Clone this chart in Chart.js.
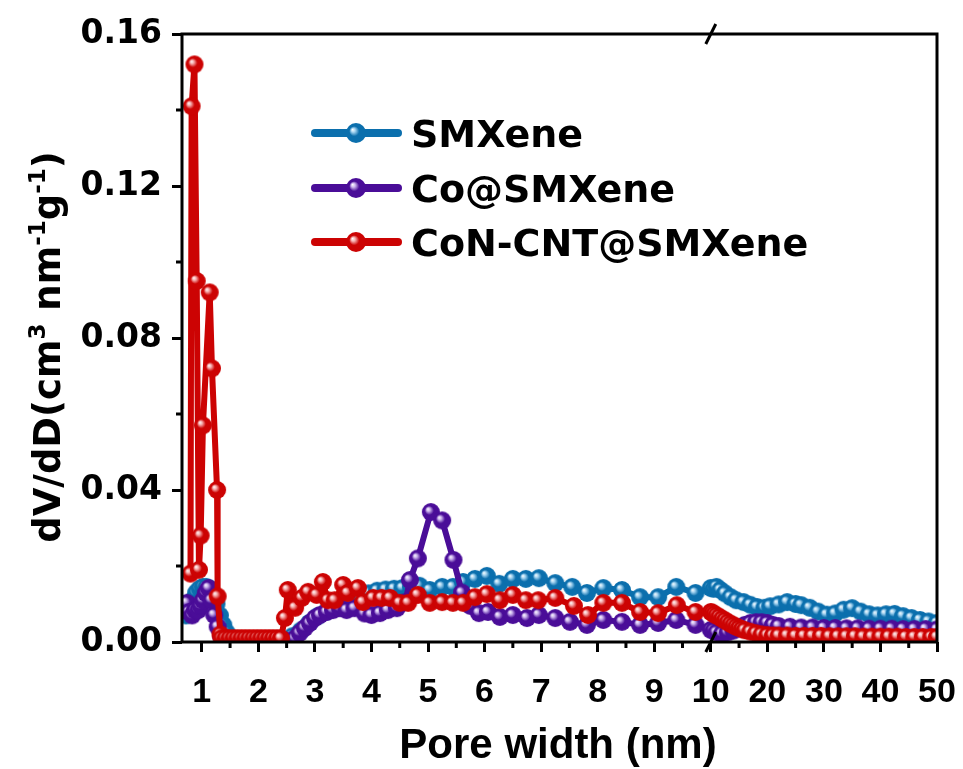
<!DOCTYPE html>
<html>
<head>
<meta charset="utf-8">
<script src="https://cdn.jsdelivr.net/npm/chart.js@4.4.1/dist/chart.umd.min.js"></script>
<style>
  html, body { margin: 0; padding: 0; background: #fff; }
</style>
</head>
<body>
<canvas id="psd" width="963" height="769"></canvas>
<script>
// x tick labels (axis is broken at 10 nm, 10-50 nm compressed)
const tickLabels = ['1','2','3','4','5','6','7','8','9','10','20','30','40','50'];
const seriesNames = ['SMXene', 'Co@SMXene', 'CoN-CNT@SMXene'];

// SMXene
const smxWidth = [0.72,0.78,0.84,0.90,0.96,1.02,1.08,1.14,1.20,1.26,
  1.32,1.38,1.44,1.50,1.56,1.62,1.80,2.00,2.20,2.40,
  2.60,2.75,2.90,3.05,3.20,3.35,3.50,3.65,3.80,3.95,
  4.10,4.25,4.40,4.55,4.70,4.85,5.03,5.25,5.44,5.62,
  5.83,6.04,6.26,6.50,6.73,6.96,7.25,7.55,7.81,8.10,
  8.43,8.75,9.07,9.39,9.73,10.0,
  10.5,11,11.7,12.5,13.5,14.5,15.8,17,18.2,19.5,
  20.5,22,23.5,25,26,27.5,29,30.5,32,33.5,
  35,36.5,38,39.5,41,42.5,44,45.5,47,48.5,50];
const smxValue = [0.007,0.009,0.011,0.013,0.014,0.0145,0.0145,0.014,0.0125,0.010,
  0.007,0.0045,0.0025,0.0012,0.0005,0.0003,0.0003,0.0003,0.0003,0.0004,
  0.0015,0.003,0.005,0.0068,0.008,0.009,0.0095,0.0105,0.012,0.0128,
  0.0135,0.0138,0.014,0.0142,0.0145,0.0148,0.0137,0.0145,0.0145,0.0158,
  0.0166,0.0174,0.0153,0.0166,0.0166,0.0168,0.0155,0.0145,0.0129,0.0142,
  0.0137,0.0118,0.0118,0.0145,0.0129,0.0142,
  0.0140,0.0145,0.0137,0.0128,0.0118,0.0110,0.0105,0.0098,0.0092,0.0090,
  0.0094,0.0099,0.0105,0.0100,0.0097,0.0090,0.0080,0.0072,0.0075,0.0085,
  0.0089,0.0080,0.0073,0.0070,0.0073,0.0074,0.0068,0.0063,0.0058,0.0054,0.0050];

// Co@SMXene
const coWidth = [0.70,0.74,0.78,0.83,0.88,0.94,0.98,1.02,1.07,1.12,
  1.17,1.22,1.28,1.34,1.40,1.60,1.90,2.20,2.50,2.65,
  2.73,2.82,2.91,3.00,3.09,3.21,3.32,3.44,3.56,3.70,
  3.88,4.00,4.15,4.29,4.45,4.60,4.68,4.82,5.05,5.25,
  5.45,5.60,5.75,5.90,6.06,6.27,6.50,6.75,6.96,7.25,
  7.51,7.81,8.10,8.43,8.75,9.07,9.39,9.73,10.0,
  10.5,11,12,13,14,15,16,17,18,19,
  20,21,22,24,26,28,30,32,34,36,
  38,40,42,44,46,48,50];
const coValue = [0.0084,0.0103,0.0079,0.0070,0.0084,0.0084,0.0095,0.0110,0.0129,0.0142,
  0.0110,0.0071,0.0040,0.0015,0.0005,0.0003,0.0003,0.0003,0.0003,0.0010,
  0.0024,0.0037,0.0050,0.0063,0.0071,0.0079,0.0084,0.0089,0.0084,0.0089,
  0.0075,0.0071,0.0076,0.0084,0.0089,0.0105,0.0163,0.0220,0.0342,0.0320,
  0.0216,0.0130,0.0095,0.0076,0.0079,0.0066,0.0071,0.0063,0.0071,0.0063,
  0.0053,0.0045,0.0058,0.0053,0.0045,0.0050,0.0058,0.0045,0.0032,
  0.0030,0.0025,0.0022,0.0025,0.0030,0.0038,0.0045,0.0050,0.0052,0.0052,
  0.0050,0.0045,0.0042,0.0040,0.0038,0.0038,0.0037,0.0037,0.0036,0.0036,
  0.0035,0.0035,0.0035,0.0034,0.0034,0.0034,0.0033];

// CoN-CNT@SMXene
const cntWidth = [0.80,0.82,0.87,0.91,0.95,0.98,1.02,1.14,1.18,
  1.27,1.28,1.33,1.35,1.42,1.49,1.56,1.63,1.70,1.77,
  1.84,1.91,1.98,2.05,2.12,2.19,2.26,2.33,2.40,2.47,
  2.52,2.65,2.77,2.88,3.03,3.14,3.23,3.35,3.50,3.58,
  3.76,3.85,4.03,4.18,4.33,4.50,4.65,4.82,5.03,5.25,
  5.44,5.62,5.83,6.04,6.27,6.50,6.73,6.95,7.25,7.58,
  7.83,8.10,8.43,8.75,9.07,9.40,9.73,10.0,
  10.3,10.6,11,11.5,12,12.5,13,13.5,14,14.5,
  15,15.5,16,17,18,19,20,21,22,23.5,
  25,26.5,28,29.5,31,32.5,34,35.5,37,38.5,
  40,41.5,43,44.5,46,47.5,49,50];
const cntValue = [0.018,0.141,0.152,0.095,0.019,0.028,0.057,0.092,0.072,
  0.040,0.012,0.002,0.001,0.001,0.001,0.001,0.001,0.001,0.001,
  0.001,0.001,0.001,0.001,0.001,0.001,0.001,0.001,0.001,0.0063,
  0.0137,0.0090,0.0116,0.0132,0.0124,0.0158,0.0110,0.0110,0.0150,0.0129,
  0.0142,0.0105,0.0116,0.0116,0.0116,0.0103,0.0103,0.0124,0.0103,0.0105,
  0.0103,0.0103,0.0118,0.0126,0.0110,0.0124,0.0110,0.0110,0.0116,0.0095,
  0.0071,0.0103,0.0103,0.0079,0.0076,0.0097,0.0079,0.0079,
  0.0077,0.0073,0.0070,0.0066,0.0061,0.0057,0.0052,0.0048,0.0044,0.0040,
  0.0037,0.0034,0.0031,0.0027,0.0023,0.0020,0.0018,0.0017,0.0017,0.0017,
  0.0016,0.0016,0.0016,0.0016,0.0015,0.0015,0.0015,0.0015,0.0014,0.0014,
  0.0014,0.0014,0.0014,0.0013,0.0013,0.0013,0.0013,0.0013];

const colors = ['#0b6fad', '#4a0d98', '#cc0303'];
const pale = ['#a9d6f2', '#cdb6ee', '#f7b4b4'];

// broken axis: 1 unit per nm up to 10, then 1 unit per 10 nm
function brk(x) {
  return x <= 10 ? x : 10 + (x - 10) / 10;
}

function toPoints(w, v) {
  return w.map((x, i) => ({ x: brk(x), y: v[i] }));
}

// little shaded ball used as the marker
function sphere(i, r) {
  const s = Math.ceil(r * 2) + 2;
  const c = document.createElement('canvas');
  c.width = s; c.height = s;
  const g = c.getContext('2d');
  const m = s / 2;
  const grad = g.createRadialGradient(m - r * 0.35, m - r * 0.35, 0, m, m, r);
  grad.addColorStop(0, '#ffffff');
  grad.addColorStop(0.2, pale[i]);
  grad.addColorStop(0.5, colors[i]);
  grad.addColorStop(1, colors[i]);
  g.beginPath();
  g.arc(m, m, r, 0, Math.PI * 2);
  g.fillStyle = grad;
  g.fill();
  return c;
}

const balls = [0, 1, 2].map(i => sphere(i, 9));
const legendBalls = [0, 1, 2].map(i => sphere(i, 10));

const extras = {
  id: 'extras',
  afterDraw(chart) {
    const ctx = chart.ctx;
    const a = chart.chartArea;
    const xs = chart.scales.x, ys = chart.scales.y;
    ctx.save();
    ctx.strokeStyle = '#000';
    ctx.lineWidth = 3;
    ctx.strokeRect(a.left, a.top, a.right - a.left, a.bottom - a.top);

    // minor ticks
    ctx.beginPath();
    for (let v = 1.5; v < 14; v += 1) {
      const px = xs.getPixelForValue(v);
      ctx.moveTo(px, a.bottom);
      ctx.lineTo(px, a.bottom + 6);
    }
    for (let v = 0.02; v < 0.16; v += 0.04) {
      const py = ys.getPixelForValue(v);
      ctx.moveTo(a.left, py);
      ctx.lineTo(a.left - 6, py);
    }
    ctx.stroke();

    // axis break marks at 10 nm
    const bx = xs.getPixelForValue(brk(10));
    ctx.beginPath();
    [a.top, a.bottom].forEach(y => {
      ctx.moveTo(bx - 5, y + 10);
      ctx.lineTo(bx + 5, y - 10);
    });
    ctx.stroke();

    // legend
    const ly = [133, 188, 242];
    seriesNames.forEach((name, i) => {
      ctx.strokeStyle = colors[i];
      ctx.lineWidth = 8;
      ctx.lineCap = 'round';
      ctx.beginPath();
      ctx.moveTo(315, ly[i]);
      ctx.lineTo(398, ly[i]);
      ctx.stroke();
      const b = legendBalls[i];
      ctx.drawImage(b, 356 - b.width / 2, ly[i] - b.height / 2);
      ctx.fillStyle = '#000';
      ctx.font = 'bold 38px "DejaVu Sans"';
      ctx.textAlign = 'left';
      ctx.textBaseline = 'alphabetic';
      ctx.fillText(name, 411, ly[i] + 14);
    });

    // x title
    ctx.fillStyle = '#000';
    ctx.font = 'bold 42px "Liberation Sans", Arial, sans-serif';
    ctx.textAlign = 'center';
    ctx.fillText('Pore width (nm)', 558, 758);

    // y title with superscripts
    const parts = [['dV/dD(cm', 0], ['3', 1], [' nm', 0], ['-1', 1], ['g', 0], ['-1', 1], [')', 0]];
    const big = 'bold 37px "DejaVu Sans"', small = 'bold 23px "DejaVu Sans"';
    let total = 0;
    parts.forEach(p => { ctx.font = p[1] ? small : big; total += ctx.measureText(p[0]).width; });
    ctx.translate(60, 347);
    ctx.rotate(-Math.PI / 2);
    ctx.textAlign = 'left';
    let cx = -total / 2;
    parts.forEach(p => {
      ctx.font = p[1] ? small : big;
      ctx.fillText(p[0], cx, p[1] ? -15 : 0);
      cx += ctx.measureText(p[0]).width;
    });
    ctx.restore();
  }
};

function makeSet(i, w, v, order) {
  return {
    label: seriesNames[i],
    data: toPoints(w, v),
    borderColor: colors[i],
    backgroundColor: colors[i],
    borderWidth: 6,
    borderJoinStyle: 'round',
    borderCapStyle: 'round',
    tension: 0,
    pointStyle: balls[i],
    pointRadius: 9,
    pointHoverRadius: 9,
    order: order
  };
}

new Chart(document.getElementById('psd'), {
  type: 'line',
  data: {
    datasets: [
      makeSet(0, smxWidth, smxValue, 2),
      makeSet(1, coWidth, coValue, 1),
      makeSet(2, cntWidth, cntValue, 0)
    ]
  },
  options: {
    responsive: false,
    animation: false,
    devicePixelRatio: 1,
    layout: { padding: { top: 34, right: 26, left: 0, bottom: 0 } },
    plugins: { legend: { display: false }, tooltip: { enabled: false } },
    scales: {
      x: {
        type: 'linear',
        min: 0.65,
        max: 14,
        afterBuildTicks(scale) {
          scale.ticks = tickLabels.map((t, i) => ({ value: i + 1 }));
        },
        afterFit(scale) {
          scale.height = 127;
          scale.paddingLeft = 0;
          scale.paddingRight = 0;
        },
        ticks: {
          autoSkip: false,
          maxRotation: 0,
          padding: 20,
          color: '#000',
          font: { family: '"Liberation Sans", Arial', weight: 'bold', size: 34 },
          callback: v => tickLabels[Math.round(v) - 1]
        },
        grid: { drawOnChartArea: false, tickLength: 10, tickWidth: 3, tickColor: '#000' },
        border: { display: false }
      },
      y: {
        min: 0,
        max: 0.16,
        afterFit(scale) {
          scale.width = 182;
          scale.paddingTop = 0;
          scale.paddingBottom = 0;
        },
        ticks: {
          stepSize: 0.04,
          padding: 10,
          color: '#000',
          font: { family: '"DejaVu Sans"', weight: 'bold', size: 33 },
          callback: v => v.toFixed(2)
        },
        grid: { drawOnChartArea: false, tickLength: 10, tickWidth: 3, tickColor: '#000' },
        border: { display: false }
      }
    }
  },
  plugins: [extras]
});
</script>
</body>
</html>
